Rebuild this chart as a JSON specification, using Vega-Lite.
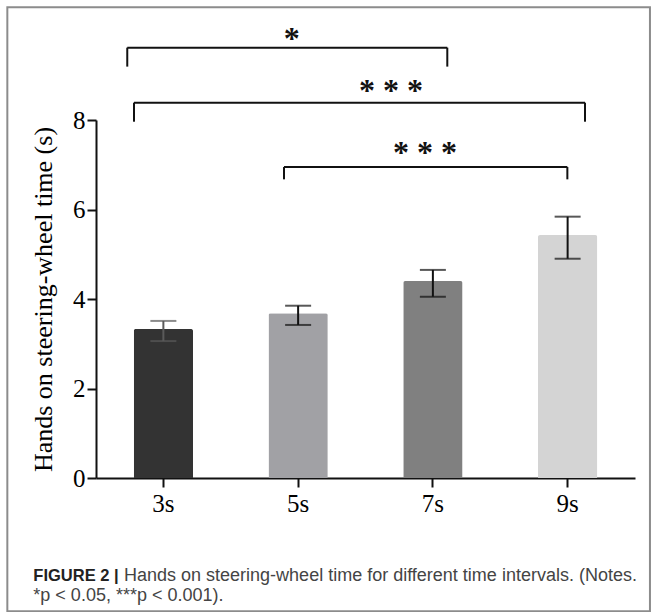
{
  "$schema": "https://vega.github.io/schema/vega-lite/v6.json",
  "autosize": "none",
  "width": 539,
  "height": 358,
  "padding": {"left": 96, "top": 120, "right": 22, "bottom": 134},
  "background": "white",
  "config": {"view": {"stroke": null}, "font": "Liberation Serif"},
  "datasets": {
    "bars": [
      {"interval": "3s", "mean": 3.33, "lo": 3.06, "hi": 3.51},
      {"interval": "5s", "mean": 3.68, "lo": 3.42, "hi": 3.85},
      {"interval": "7s", "mean": 4.40, "lo": 4.05, "hi": 4.65},
      {"interval": "9s", "mean": 5.43, "lo": 4.90, "hi": 5.84}
    ],
    "brackets": [
      {"x": -0.268, "x2": 2.107, "y": 9.617, "y2": 9.617},
      {"x": -0.268, "x2": -0.268, "y": 9.617, "y2": 9.193},
      {"x": 2.107, "x2": 2.107, "y": 9.617, "y2": 9.193},
      {"x": -0.218, "x2": 3.129, "y": 8.387, "y2": 8.387},
      {"x": -0.218, "x2": -0.218, "y": 8.387, "y2": 7.962},
      {"x": 3.129, "x2": 3.129, "y": 8.387, "y2": 7.962},
      {"x": 0.895, "x2": 2.998, "y": 6.949, "y2": 6.949},
      {"x": 0.895, "x2": 0.895, "y": 6.949, "y2": 6.674},
      {"x": 2.998, "x2": 2.998, "y": 6.949, "y2": 6.674}
    ],
    "stars": [
      {"x": 0.952, "y": 9.917, "label": "*"},
      {"x": 1.689, "y": 8.762, "label": "* * *"},
      {"x": 1.942, "y": 7.381, "label": "* * *"}
    ],
    "captionBold": [
      {"x": -0.965, "y": -2.18, "label": "FIGURE 2 |"}
    ],
    "captionRegular": [
      {"x": -0.292, "y": -2.18, "label": "Hands on steering-wheel time for different time intervals. (Notes."},
      {"x": -0.965, "y": -2.63, "label": "*p < 0.05, ***p < 0.001)."}
    ],
    "frame": [
      {"x": -1.158, "x2": 3.611, "y": 10.52, "y2": -2.98}
    ]
  },
  "layer": [
    {
      "data": {"name": "bars"},
      "encoding": {
        "x": {
          "field": "interval", "type": "nominal", "sort": null,
          "scale": {"paddingInner": 0.56, "paddingOuter": 0.28},
          "axis": {
            "title": null, "labelAngle": 0, "labelFont": "Liberation Serif", "labelFontSize": 25,
            "labelColor": "#000", "labelPadding": 4, "domainColor": "#111", "domainWidth": 2,
            "tickColor": "#111", "tickWidth": 2, "tickSize": 9, "grid": false
          }
        }
      },
      "layer": [
        {
          "mark": {"type": "bar", "cornerRadiusTopLeft": 2, "cornerRadiusTopRight": 2},
          "encoding": {
            "y": {
              "field": "mean", "type": "quantitative",
              "scale": {"domain": [0, 8], "nice": false},
              "axis": {
                "values": [0, 2, 4, 6, 8], "title": "Hands on steering-wheel time (s)",
                "titleFont": "Liberation Serif", "titleFontSize": 26, "titleFontWeight": "normal",
                "titleColor": "#000", "titlePadding": 16,
                "labelFont": "Liberation Serif", "labelFontSize": 25, "labelColor": "#000", "labelPadding": 2,
                "domainColor": "#111", "domainWidth": 2, "tickColor": "#111", "tickWidth": 2, "tickSize": 9,
                "grid": false
              }
            },
            "fill": {
              "field": "interval", "type": "nominal",
              "scale": {"domain": ["3s", "5s", "7s", "9s"], "range": ["#333333", "#a1a1a5", "#808080", "#d4d4d4"]},
              "legend": null
            }
          }
        },
        {
          "mark": {"type": "rule", "strokeWidth": 2},
          "encoding": {
            "y": {"field": "lo", "type": "quantitative", "scale": {"domain": [0, 8], "nice": false}},
            "y2": {"field": "hi"},
            "color": {
              "field": "interval", "type": "nominal",
              "scale": {"domain": ["3s", "5s", "7s", "9s"], "range": ["#5a5a5a", "#111111", "#111111", "#111111"]},
              "legend": null
            }
          }
        },
        {
          "mark": {"type": "tick", "size": 26, "thickness": 2},
          "encoding": {
            "y": {"field": "lo", "type": "quantitative", "scale": {"domain": [0, 8], "nice": false}},
            "color": {"field": "interval", "type": "nominal", "legend": null}
          }
        },
        {
          "mark": {"type": "tick", "size": 26, "thickness": 2},
          "encoding": {
            "y": {"field": "hi", "type": "quantitative", "scale": {"domain": [0, 8], "nice": false}},
            "color": {"field": "interval", "type": "nominal", "legend": null}
          }
        }
      ]
    },
    {
      "layer": [
        {
          "data": {"name": "frame"},
          "mark": {"type": "rect", "fill": null, "stroke": "#8c8c8c", "strokeWidth": 2, "clip": false},
          "encoding": {
            "x": {"field": "x", "type": "quantitative", "scale": {"domain": [-0.5, 3.5], "nice": false, "zero": false}, "axis": null},
            "x2": {"field": "x2"},
            "y": {"field": "y", "type": "quantitative", "scale": {"domain": [0, 8], "nice": false}},
            "y2": {"field": "y2"}
          }
        },
        {
          "data": {"name": "brackets"},
          "mark": {"type": "rule", "strokeWidth": 2, "color": "#111", "clip": false},
          "encoding": {
            "x": {"field": "x", "type": "quantitative", "scale": {"domain": [-0.5, 3.5], "nice": false, "zero": false}, "axis": null},
            "x2": {"field": "x2"},
            "y": {"field": "y", "type": "quantitative", "scale": {"domain": [0, 8], "nice": false}},
            "y2": {"field": "y2"}
          }
        },
        {
          "data": {"name": "stars"},
          "mark": {"type": "text", "font": "Liberation Serif", "fontSize": 32, "fontWeight": "bold", "baseline": "alphabetic", "dy": 15, "align": "center", "color": "#111", "clip": false},
          "encoding": {
            "x": {"field": "x", "type": "quantitative", "scale": {"domain": [-0.5, 3.5], "nice": false, "zero": false}, "axis": null},
            "y": {"field": "y", "type": "quantitative", "scale": {"domain": [0, 8], "nice": false}},
            "text": {"field": "label"}
          }
        },
        {
          "data": {"name": "captionBold"},
          "mark": {"type": "text", "font": "Liberation Sans", "fontSize": 16.5, "fontWeight": "bold", "baseline": "middle", "align": "left", "color": "#222", "clip": false},
          "encoding": {
            "x": {"field": "x", "type": "quantitative", "scale": {"domain": [-0.5, 3.5], "nice": false, "zero": false}, "axis": null},
            "y": {"field": "y", "type": "quantitative", "scale": {"domain": [0, 8], "nice": false}},
            "text": {"field": "label"}
          }
        },
        {
          "data": {"name": "captionRegular"},
          "mark": {"type": "text", "font": "Liberation Sans", "fontSize": 18, "baseline": "middle", "align": "left", "color": "#444", "clip": false},
          "encoding": {
            "x": {"field": "x", "type": "quantitative", "scale": {"domain": [-0.5, 3.5], "nice": false, "zero": false}, "axis": null},
            "y": {"field": "y", "type": "quantitative", "scale": {"domain": [0, 8], "nice": false}},
            "text": {"field": "label"}
          }
        }
      ]
    }
  ],
  "resolve": {"scale": {"x": "independent"}, "axis": {"x": "independent"}}
}
